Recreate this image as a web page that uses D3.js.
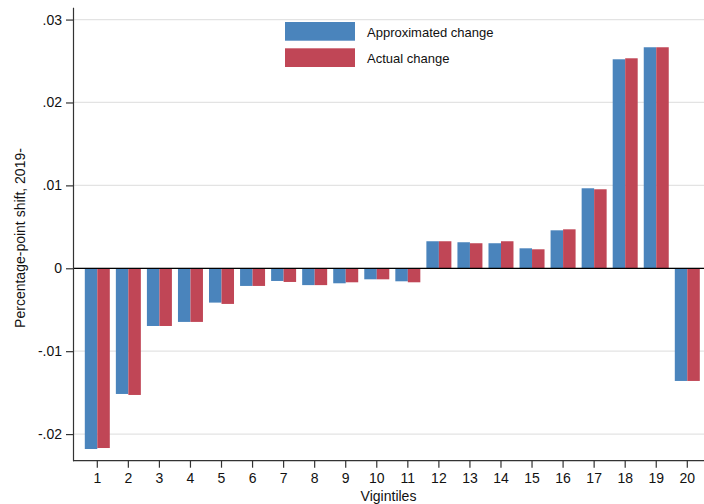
<!DOCTYPE html>
<html>
<head>
<meta charset="utf-8">
<script src="https://cdn.jsdelivr.net/npm/d3@7"></script>
<style>
  body { margin: 0; background: #fff; }
  svg { display: block; font-family: "Liberation Sans", Arial, Helvetica, sans-serif; }
</style>
</head>
<body>
<svg id="chart" width="704" height="504"></svg>
<script>
const categories = ["1","2","3","4","5","6","7","8","9","10","11","12","13","14","15","16","17","18","19","20"];
const approximated = [-0.0218, -0.01516, -0.00696, -0.00647, -0.00414, -0.00213, -0.00153, -0.00203, -0.00181, -0.00133, -0.00157, 0.00326, 0.00314, 0.00302, 0.00241, 0.00458, 0.00965, 0.02521, 0.02666, -0.01359];
const actual = [-0.02168, -0.01528, -0.00696, -0.00647, -0.0043, -0.00213, -0.00165, -0.00203, -0.00169, -0.00133, -0.00169, 0.00326, 0.00302, 0.00326, 0.00229, 0.0047, 0.00953, 0.02533, 0.02666, -0.01359];
const yTicks = [-0.02, -0.01, 0, 0.01, 0.02, 0.03];
const yTickLabels = ["-.02", "-.01", "0", ".01", ".02", ".03"];
const seriesNames = ["Approximated change", "Actual change"];
const colors = ["#4a84bc", "#c04656"];

(function () {
const svg = d3.select("#chart");
const mLeft = 73, mRight = 704, mTop = 7.3, mBottom = 460.7;

const y = d3.scaleLinear().domain([-0.02321, 0.03148]).range([mBottom, mTop]);
const x = d3.scaleBand().domain(categories).range([81.775, 702.825]).paddingInner(0.195).paddingOuter(0.0975);
const xs = d3.scaleBand().domain([0, 1]).range([0, x.bandwidth()]);

// gridlines
svg.append("g").selectAll("line").data(yTicks).join("line")
  .attr("x1", mLeft).attr("x2", mRight)
  .attr("y1", d => y(d)).attr("y2", d => y(d))
  .attr("stroke", "#e3e3e3").attr("stroke-width", 1.2);

// bars
const series = [approximated, actual];
series.forEach((vals, s) => {
  svg.append("g").selectAll("rect").data(vals).join("rect")
    .attr("x", (d, i) => x(categories[i]) + xs(s))
    .attr("width", xs.bandwidth())
    .attr("y", d => y(Math.max(0, d)))
    .attr("height", d => Math.abs(y(d) - y(0)))
    .attr("fill", colors[s]);
});

// zero line
svg.append("line")
  .attr("x1", mLeft).attr("x2", mRight)
  .attr("y1", y(0)).attr("y2", y(0))
  .attr("stroke", "#000").attr("stroke-width", 1.2);

// y axis
const yAxis = d3.axisLeft(y).tickValues(yTicks).tickFormat((d, i) => yTickLabels[i]).tickSize(7).tickPadding(4).tickSizeOuter(0);
const gy = svg.append("g").attr("transform", `translate(${mLeft},0)`).call(yAxis);
gy.select(".domain").attr("stroke", "#333").attr("stroke-width", 1.2);
gy.selectAll(".tick line").attr("stroke", "#333").attr("stroke-width", 1.2);
gy.selectAll(".tick text").attr("font-size", 14).attr("fill", "#111").attr("font-family", "Liberation Sans, Arial, sans-serif");

// x axis
const xAxis = d3.axisBottom(x).tickSize(7).tickPadding(5).tickSizeOuter(0);
const gx = svg.append("g").attr("transform", `translate(0,${mBottom})`).call(xAxis);
gx.select(".domain").attr("d", `M${mLeft},0H${mRight}`).attr("stroke", "#333").attr("stroke-width", 1.2);
gx.selectAll(".tick line").attr("stroke", "#333").attr("stroke-width", 1.2);
gx.selectAll(".tick text").attr("font-size", 14).attr("fill", "#111").attr("font-family", "Liberation Sans, Arial, sans-serif");

// axis titles
svg.append("text")
  .attr("transform", `translate(25,${(mTop + mBottom) / 2 + 4}) rotate(-90)`)
  .attr("text-anchor", "middle")
  .attr("font-size", 14).attr("fill", "#111")
  .text("Percentage-point shift, 2019-");
svg.append("text")
  .attr("x", (mLeft + mRight) / 2).attr("y", 501)
  .attr("text-anchor", "middle")
  .attr("font-size", 14).attr("fill", "#111")
  .text("Vigintiles");

// legend
const legend = svg.append("g");
seriesNames.forEach((name, i) => {
  legend.append("rect")
    .attr("x", 285).attr("y", 22 + i * 26.3)
    .attr("width", 70).attr("height", 18.7)
    .attr("fill", colors[i]);
  legend.append("text")
    .attr("x", 367).attr("y", 36.5 + i * 26.3)
    .attr("font-size", 13).attr("fill", "#111")
    .text(name);
});
})();
</script>
</body>
</html>
